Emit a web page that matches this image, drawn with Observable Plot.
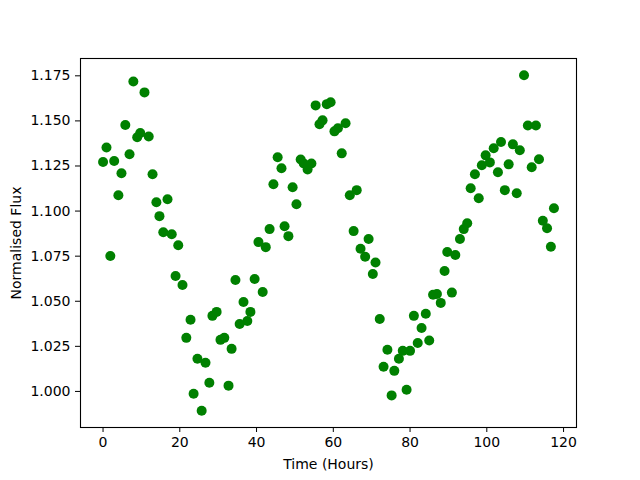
<!DOCTYPE html>
<html><head><meta charset="utf-8">
<script src="https://cdn.jsdelivr.net/npm/d3@7"></script>
<script src="https://cdn.jsdelivr.net/npm/@observablehq/plot@0.6"></script>
<style>body{margin:0;background:#fff}</style>
</head><body><div id="chart"></div>
<script>
const time = [0.0,0.9,1.9,2.9,4.0,4.8,5.8,6.9,7.9,8.9,9.7,10.8,11.9,12.9,13.9,14.7,15.7,16.8,17.9,18.9,
  19.6,20.7,21.7,22.8,23.6,24.6,25.7,26.7,27.7,28.5,29.6,30.6,31.6,32.7,33.5,34.5,35.6,36.6,37.6,38.4,
  39.5,40.5,41.6,42.4,43.4,44.4,45.5,46.5,47.3,48.3,49.4,50.4,51.5,52.3,53.3,54.3,55.4,56.4,57.2,58.3,
  59.3,60.3,61.2,62.2,63.2,64.3,65.3,66.1,67.1,68.3,69.2,70.3,71.0,72.1,73.1,74.1,75.2,75.9,77.1,78.1,
  79.1,80.0,81.0,82.0,83.0,84.1,85.0,86.0,87.0,88.0,89.0,89.7,90.9,91.8,93.0,94.0,94.9,95.8,96.9,97.9,
  98.7,99.7,100.8,101.8,102.9,103.7,104.7,105.7,106.8,107.8,108.6,109.7,110.7,111.7,112.8,113.6,114.6,115.7,116.7,117.5];
const flux = [1.1272,1.1353,1.0751,1.1278,1.1088,1.1210,1.1477,1.1315,1.1718,1.1409,1.1433,1.1658,1.1414,1.1204,1.1049,1.0972,1.0883,1.1066,1.0872,1.0640,
  1.0811,1.0590,1.0297,1.0397,0.9987,1.0181,0.9893,1.0159,1.0048,1.0419,1.0441,1.0286,1.0297,1.0032,1.0236,1.0618,1.0374,1.0496,1.0391,1.0441,
  1.0623,1.0828,1.0551,1.0800,1.0900,1.1149,1.1298,1.1237,1.0916,1.0861,1.1132,1.1038,1.1286,1.1264,1.1231,1.1264,1.1586,1.1481,1.1503,1.1593,
  1.1603,1.1442,1.1459,1.1320,1.1487,1.1088,1.0889,1.1116,1.0791,1.0747,1.0845,1.0651,1.0715,1.0402,1.0137,1.0231,0.9978,1.0114,1.0181,1.0225,
  1.0009,1.0225,1.0419,1.0269,1.0352,1.0431,1.0282,1.0536,1.0540,1.0491,1.0668,1.0773,1.0548,1.0756,1.0845,1.0900,1.0933,1.1127,1.1204,1.1071,
  1.1254,1.1309,1.1270,1.1348,1.1215,1.1383,1.1116,1.1259,1.1370,1.1099,1.1337,1.1753,1.1475,1.1243,1.1475,1.1287,1.0946,1.0905,1.0802,1.1016];
const xTicks = [0, 20, 40, 60, 80, 100, 120];
const yTicks = [1.000, 1.025, 1.050, 1.075, 1.100, 1.125, 1.150, 1.175];
const xLabel = "Time (Hours)";
const yLabel = "Normalised Flux";

const data = time.map((t, i) => ({t, f: flux[i]}));
const chart = Plot.plot({
  width: 640, height: 480,
  marginLeft: 80, marginRight: 64, marginTop: 58, marginBottom: 53,
  style: {fontFamily: "DejaVu Sans", fontSize: "14px", background: "white", color: "black"},
  x: {domain: [-5.875, 123.375]},
  y: {domain: [0.98, 1.1846]},
  marks: [
    Plot.dot(data, {x: "t", y: "f", r: 5, fill: "#008000", stroke: "none"}),
    Plot.frame({stroke: "black", strokeWidth: 1.1}),
    Plot.axisX({ticks: xTicks, tickSize: 5, tickPadding: 5, label: xLabel, labelAnchor: "center", labelArrow: "none", labelOffset: 41}),
    Plot.axisY({ticks: yTicks, tickFormat: d3.format(".3f"), tickSize: 5, tickPadding: 5, label: yLabel, labelAnchor: "center", labelArrow: "none", labelOffset: 69})
  ]
});
document.getElementById("chart").appendChild(chart);
</script>
</body></html>
